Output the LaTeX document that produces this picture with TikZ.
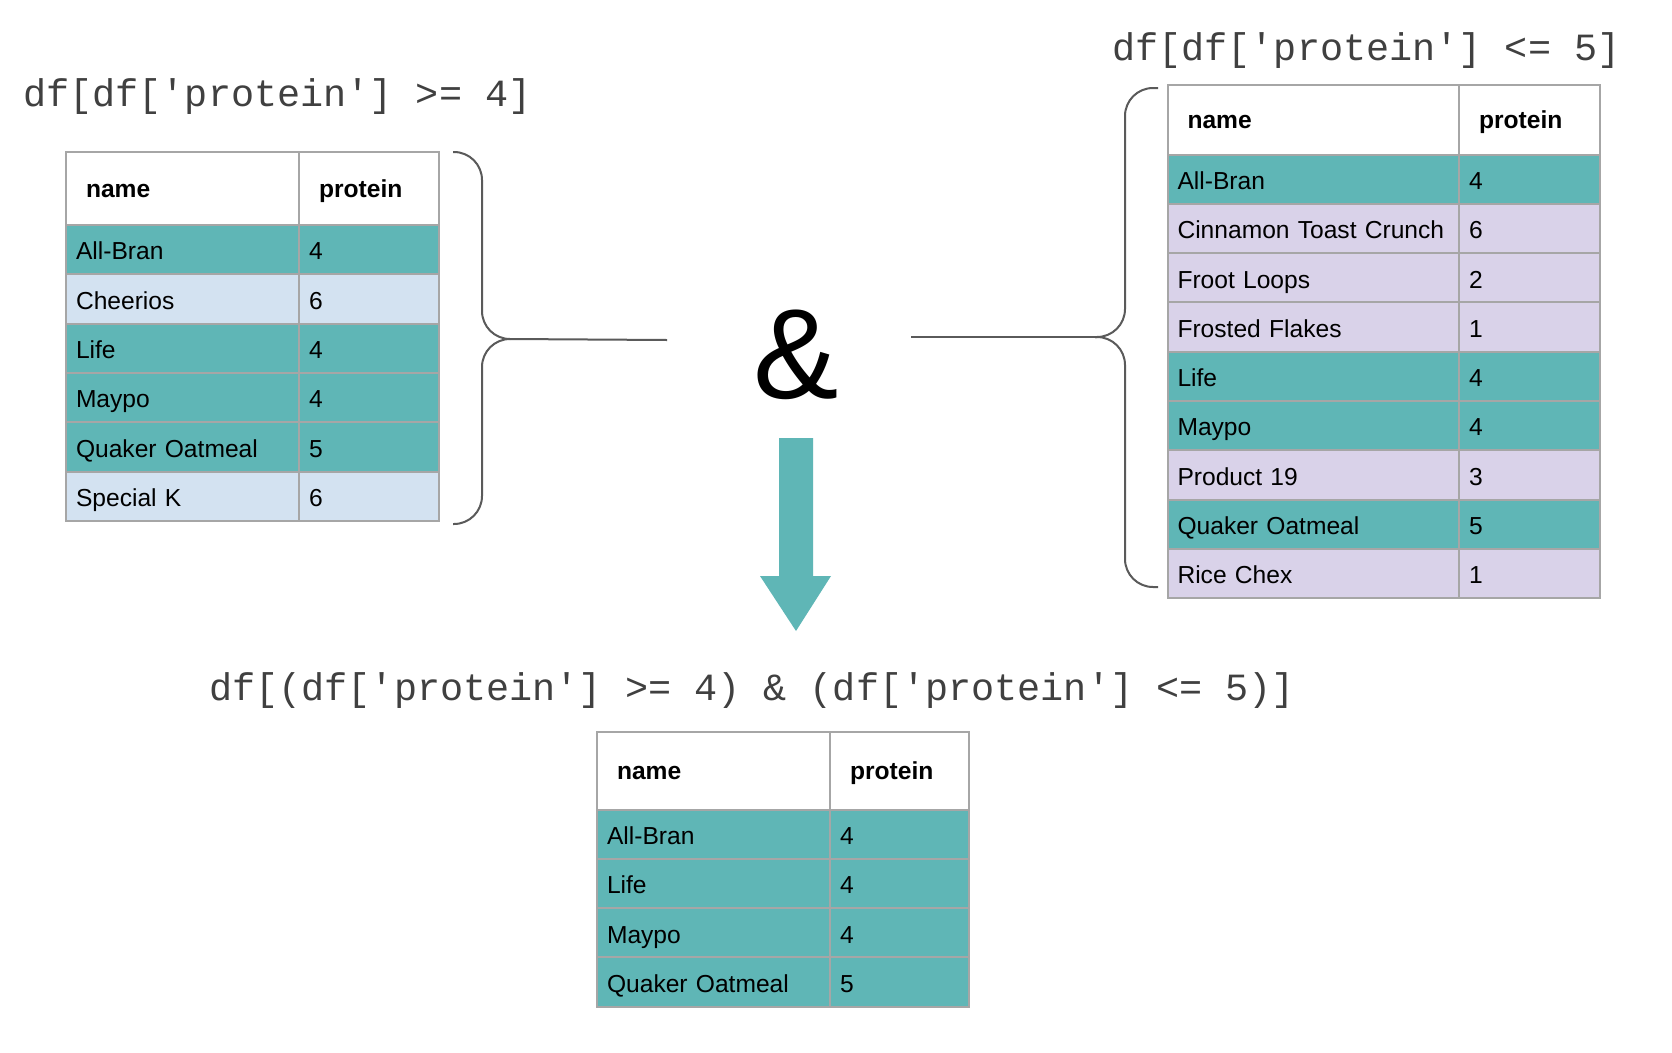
\documentclass[tikz,border=0pt]{standalone}
\usepackage{fontspec}
\setmainfont{Liberation Sans}
\setmonofont{Liberation Mono}
\usetikzlibrary{positioning}

\definecolor{tealrow}{HTML}{5FB6B6}
\definecolor{bluerow}{HTML}{D3E2F1}
\definecolor{lilacrow}{HTML}{D9D2E9}
\definecolor{gridgray}{HTML}{A6A6A6}
\definecolor{bracegray}{HTML}{5A5A5A}
\definecolor{codegray}{HTML}{404040}
\newcommand{\codesize}{\fontsize{38.5}{42}\selectfont}
\newcommand{\cellsize}{\fontsize{24.6}{28}\selectfont}

\begin{document}
\begin{tikzpicture}[
    x=1pt, y=-1pt,
    codenode/.style={anchor=base west, inner sep=0pt, font=\ttfamily\codesize, text=codegray},
    cell/.style={rectangle, anchor=north west, inner xsep=10pt, inner ysep=0pt, outer sep=0pt, minimum height=49.3pt, text height=20.5pt, text depth=0pt, align=left, font=\cellsize},
    headcell/.style={cell, inner xsep=20pt, text height=17.6pt, fill=white, font=\cellsize\bfseries},
    gridline/.style={draw=gridgray, line width=2pt},
    brace/.style={draw=bracegray, line width=2pt, rounded corners=28pt},
    link/.style={draw=bracegray, line width=2pt},
    ]
    \useasboundingbox[fill=white] (0,0) rectangle (1672,1052);

    % Code labels
    \node[codenode] (lcode) at (23,106) {df[df['protein'] >= 4]};
    \node[codenode] (rcode) at (1112,60) {df[df['protein'] <= 5]};
    \node[codenode] (bcode) at (209,700) {df[(df['protein'] >= 4) \& (df['protein'] <= 5)]};

    % Left table
    \node[headcell, text width=193pt, minimum height=73pt] (lhname) at (66,152) {name};
    \node[headcell, text width=100pt, minimum height=73pt, right=0pt of lhname] (lhval) {protein};
    \foreach \nm/\val/\clr [count=\i] in {All-Bran/4/tealrow, Cheerios/6/bluerow, Life/4/tealrow,
        Maypo/4/tealrow, Quaker Oatmeal/5/tealrow, Special K/6/bluerow} {
        \node[cell, fill=\clr, text width=213pt] (lname\i) at (66,{225+(\i-1)*49.3}) {\nm};
        \node[cell, fill=\clr, text width=120pt, right=0pt of lname\i] (lval\i) {\val};
    }
    \foreach \c in {lhname,lhval,lname1,lval1,lname2,lval2,lname3,lval3,lname4,lval4,lname5,lval5,lname6,lval6}
        \draw[gridline] (\c.north west) rectangle (\c.south east);

    % Right table
    \node[headcell, text width=251.5pt, minimum height=69.5pt] (rhname) at (1167.5,85) {name};
    \node[headcell, text width=101pt, minimum height=69.5pt, right=0pt of rhname] (rhval) {protein};
    \foreach \nm/\val/\clr [count=\i] in {All-Bran/4/tealrow, Cinnamon Toast Crunch/6/lilacrow,
        Froot Loops/2/lilacrow, Frosted Flakes/1/lilacrow, Life/4/tealrow, Maypo/4/tealrow,
        Product 19/3/lilacrow, Quaker Oatmeal/5/tealrow, Rice Chex/1/lilacrow} {
        \node[cell, fill=\clr, text width=271.5pt] (rname\i) at (1167.5,{154.5+(\i-1)*49.3}) {\nm};
        \node[cell, fill=\clr, text width=121pt, right=0pt of rname\i] (rval\i) {\val};
    }
    \foreach \c in {rhname,rhval,rname1,rval1,rname2,rval2,rname3,rval3,rname4,rval4,rname5,rval5,
        rname6,rval6,rname7,rval7,rname8,rval8,rname9,rval9}
        \draw[gridline] (\c.north west) rectangle (\c.south east);

    % Result table
    \node[headcell, text width=193pt, minimum height=77.5pt] (bhname) at (597,732) {name};
    \node[headcell, text width=99pt, minimum height=77.5pt, right=0pt of bhname] (bhval) {protein};
    \foreach \nm/\val [count=\i] in {All-Bran/4, Life/4, Maypo/4, Quaker Oatmeal/5} {
        \node[cell, fill=tealrow, text width=213pt] (bname\i) at (597,{809.5+(\i-1)*49.3}) {\nm};
        \node[cell, fill=tealrow, text width=119pt, right=0pt of bname\i] (bval\i) {\val};
    }
    \foreach \c in {bhname,bhval,bname1,bval1,bname2,bval2,bname3,bval3,bname4,bval4}
        \draw[gridline] (\c.north west) rectangle (\c.south east);

    % Ampersand and braces
    \node[anchor=base, inner sep=0pt, font=\fontsize{128}{130}\selectfont] (amp) at (796,398) {\&};
    \coordinate (ltip) at (510,339);
    \coordinate (lend) at (667,340);
    \coordinate (rtip) at (1095,337);
    \coordinate (rend) at (911,337);
    \draw[brace] (453,152) -- (482,152) -- (482,339) -- (ltip);
    \draw[brace] (ltip) -- (482,339) -- (482,524) -- (453,524);
    \draw[brace] (1158,88) -- (1125,88) -- (1125,337) -- (rtip);
    \draw[brace] (rtip) -- (1125,337) -- (1125,587) -- (1158,587);

    % Lines
    \draw[link] (ltip) -- (lend);
    \draw[link] (rend) -- (rtip);

    % Arrow
    \fill[tealrow] (779,438) -- (813,438) -- (813,576) -- (831,576) -- (796,631)
        -- (760,576) -- (779,576) -- cycle;
\end{tikzpicture}
\end{document}
